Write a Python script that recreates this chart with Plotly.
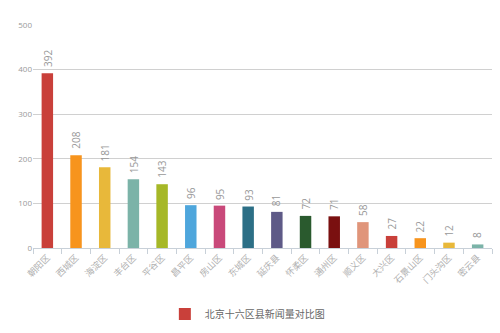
import plotly.graph_objects as go

districts = ["朝阳区", "西城区", "海淀区", "丰台区", "平谷区", "昌平区", "房山区", "东城区",
             "延庆县", "怀柔区", "通州区", "顺义区", "大兴区", "石景山区", "门头沟区", "密云县"]
news_counts = [392, 208, 181, 154, 143, 96, 95, 93, 81, 72, 71, 58, 27, 22, 12, 8]
palette = ["#c9403a", "#f7941d", "#e8b83a", "#7bb3a8", "#a6b827", "#4ea6dc",
           "#c9497a", "#2c6f86", "#5e5a87", "#2a5a2e", "#7a1010", "#e0957a"]
yticks = [0, 100, 200, 300, 400, 500]

bar_colors = [palette[i % len(palette)] for i in range(len(districts))]

font_family = "Open Sans, Noto Sans CJK SC, sans-serif"

fig = go.Figure(go.Bar(
    x=districts,
    y=news_counts,
    name="北京十六区县新闻量对比图",
    marker=dict(color=bar_colors, line=dict(width=0)),
    showlegend=True,
))

# value labels, rotated, floating a little above each bar
for name, val in zip(districts, news_counts):
    fig.add_annotation(
        x=name, y=val, text=str(val), textangle=-90,
        showarrow=False, xanchor="center", yanchor="bottom", yshift=4,
        font=dict(size=10, color="#999999", family=font_family),
    )

fig.update_layout(
    width=500, height=333,
    margin=dict(l=33, r=8, t=25, b=85),
    paper_bgcolor="white", plot_bgcolor="white",
    bargap=0.6,
    font=dict(family=font_family, color="#999999"),
    legend=dict(orientation="h", x=0.467, xanchor="center", y=0.057, yref="container",
                yanchor="middle", font=dict(size=10, color="#666666", family="Noto Sans CJK SC")),
    xaxis=dict(
        tickangle=-45, tickfont=dict(size=9, color="#b0b0b0", family="Noto Sans CJK SC"),
        showline=True, linecolor="#c8d0d8", linewidth=1,
        ticks="outside", tickson="boundaries", ticklen=5, tickcolor="#c8d0d8",
        showgrid=False,
    ),
    yaxis=dict(
        range=[0, 500], tickvals=yticks, tickfont=dict(size=8, color="#999999"),
        showgrid=True, gridcolor="#d0d0d0", gridwidth=1, zeroline=False,
        ticks="", showline=False,
    ),
)

fig.write_html("out.html")
